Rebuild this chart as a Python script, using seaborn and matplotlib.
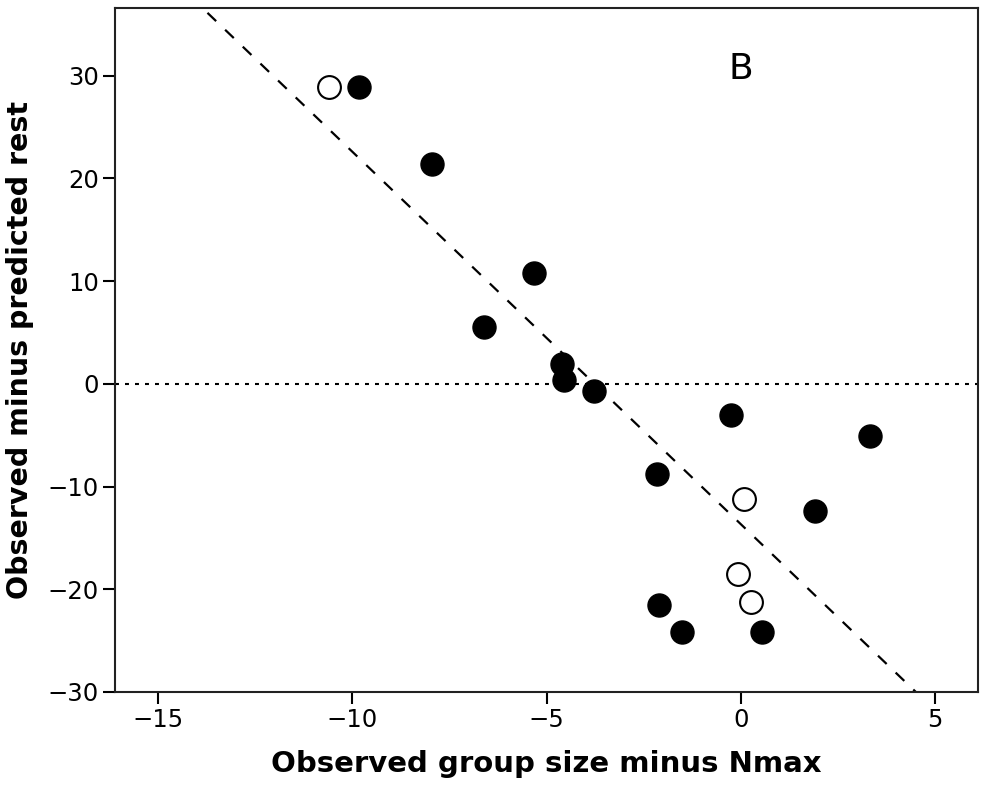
import numpy as np
import pandas as pd
import matplotlib
matplotlib.use("Agg")
import matplotlib.pyplot as plt
import seaborn as sns

# Data
x_filled = [-9.82, -7.95, -5.31, -6.62, -4.59, -4.54, -3.77, -0.26, 3.31,
            -2.15, 1.90, -2.10, -1.51, 0.54]
y_filled = [28.9, 21.4, 10.8, 5.5, 1.9, 0.4, -0.65, -3.0, -5.1,
            -8.8, -12.4, -21.5, -24.2, -24.2]
x_open = [-10.59, 0.08, -0.08, 0.26]
y_open = [28.9, -11.2, -18.5, -21.2]

x_ticks = [-15, -10, -5, 0, 5]
y_ticks = [-30, -20, -10, 0, 10, 20, 30]
x_label = "Observed group size minus Nmax"
y_label = "Observed minus predicted rest"
panel_label = "B"

df_f = pd.DataFrame({"x": x_filled, "y": y_filled})
df_o = pd.DataFrame({"x": x_open, "y": y_open})
df_all = pd.concat([df_f, df_o], ignore_index=True)

sns.set_theme(style="ticks")
plt.rcParams["font.family"] = ["DejaVu Sans"]
plt.rcParams["text.color"] = "black"
plt.rcParams["axes.labelcolor"] = "black"

fig = plt.figure(figsize=(9.85, 7.93), dpi=100)
ax = fig.add_axes([0.1168, 0.1274, 0.8761, 0.8625])
ax.set_xlim(-16.1, 6.1)
ax.set_ylim(-30, 36.6)

ax.axhline(0, color="black", lw=1.5, ls=(0, (1.9, 2.9)), zorder=1)
sns.regplot(data=df_all, x="x", y="y", ax=ax, scatter=False, ci=None,
            truncate=False,
            line_kws=dict(color="black", lw=1.6, ls=(2, (5.4, 5.6)), zorder=1))

sns.scatterplot(data=df_f, x="x", y="y", ax=ax, s=275, color="black",
                edgecolor="black", linewidth=1.0, zorder=3)
sns.scatterplot(data=df_o, x="x", y="y", ax=ax, s=270, color="white",
                edgecolor="black", linewidth=1.5, zorder=3)

ax.set_xlim(-16.1, 6.1)
ax.set_ylim(-30, 36.6)
ax.set_xticks(x_ticks)
ax.set_yticks(y_ticks)
ax.set_xticklabels([str(t).replace("-", "\u2212") for t in x_ticks])
ax.set_yticklabels([str(t).replace("-", "\u2212") for t in y_ticks])
ax.tick_params(axis="both", labelsize=17.5, length=8.5, width=1.5,
               color="black", labelcolor="black", pad=3)
for s in ax.spines.values():
    s.set_visible(True)
    s.set_linewidth(1.5)
    s.set_color("#222222")

ax.set_xlabel(x_label, fontsize=21, fontweight="bold", labelpad=13,
              color="black")
ax.set_ylabel(y_label, fontsize=20.5, fontweight="bold", labelpad=10,
              color="black")
ax.text(0, 30.7, panel_label, fontsize=26, ha="center", va="center",
        color="black")

fig.savefig("out.png", dpi=100, facecolor="white")
